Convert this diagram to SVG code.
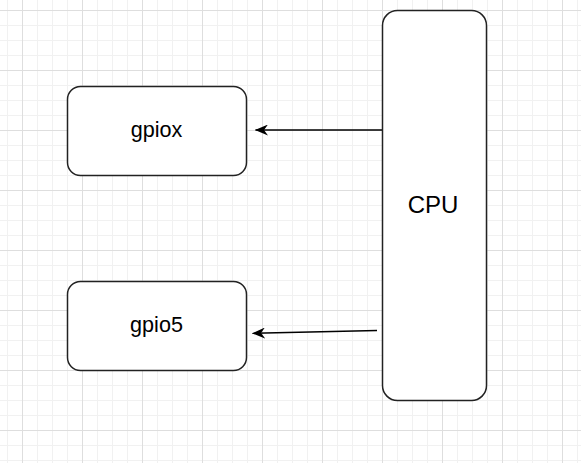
<svg xmlns="http://www.w3.org/2000/svg" width="581" height="463" viewBox="0 0 581 463">
<defs>
<pattern id="minor" x="7" y="10" width="15" height="15" patternUnits="userSpaceOnUse">
<path d="M0 0.5H15M0.5 0V15" stroke="#f1f1f1" stroke-width="1" fill="none"/>
</pattern>
<pattern id="major" x="22" y="10" width="60" height="60" patternUnits="userSpaceOnUse">
<path d="M0 0.5H60M0.5 0V60" stroke="#dedede" stroke-width="1" fill="none"/>
</pattern>
<marker id="arrow" viewBox="0 0 13 11" refX="12.5" refY="5.5" markerWidth="13" markerHeight="11" markerUnits="userSpaceOnUse" orient="auto">
<path d="M0 0 L13 5.5 L0 11 L4 5.5 Z" fill="#000"/>
</marker>
</defs>
<style>
.box{fill:#fff;stroke:#222;stroke-width:1.5}
.lbl{font-family:"Liberation Sans",Arial,sans-serif;fill:#000;text-anchor:middle}
.edge{stroke:#000;stroke-width:1.5;fill:none}
</style>
<rect width="581" height="463" fill="#fff"/>
<rect width="581" height="463" fill="url(#minor)"/>
<rect width="581" height="463" fill="url(#major)"/>
<g id="connectors">
<path class="edge" d="M382 130 L255.5 130" marker-end="url(#arrow)"/>
<path class="edge" d="M377 330.5 L252.5 333.3" marker-end="url(#arrow)"/>
</g>
<g id="gpiox">
<rect class="box" x="67.5" y="86.5" width="179" height="89" rx="13" ry="13"/>
<text class="lbl" x="156.5" y="137" font-size="21.6">gpiox</text>
</g>
<g id="gpio5">
<rect class="box" x="67.5" y="281.5" width="179" height="89" rx="13" ry="13"/>
<text class="lbl" x="156.5" y="332" font-size="21.6">gpio5</text>
</g>
<g id="cpu">
<rect class="box" x="382.5" y="10.5" width="104" height="390" rx="15" ry="15"/>
<text class="lbl" x="433" y="213" font-size="24">CPU</text>
</g>
</svg>
